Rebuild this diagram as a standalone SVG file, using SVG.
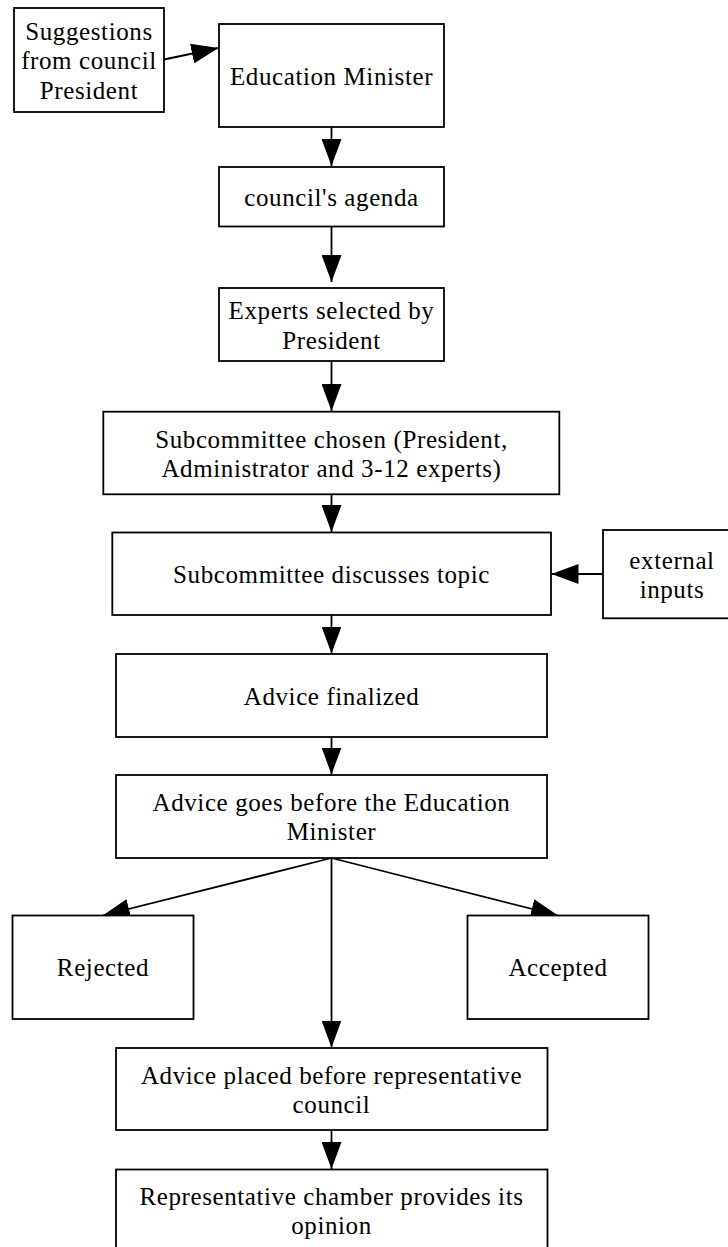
<svg xmlns="http://www.w3.org/2000/svg" width="728" height="1247" viewBox="0 0 728 1247">
<style>
  .box { fill: #ffffff; stroke: #000000; stroke-width: 1.8; }
  .lbl { font-family: "Liberation Serif", "Times New Roman", serif; font-size: 25px; letter-spacing: 0.6px; fill: #000000; text-anchor: middle; }
  .edge { stroke: #000000; stroke-width: 1.8; fill: none; marker-end: url(#arrow); }
</style>
<defs>
  <marker id="arrow" markerUnits="userSpaceOnUse" markerWidth="28" markerHeight="20" refX="27" refY="10" orient="auto">
    <path d="M0,0 L27,10 L0,20 Z" fill="#000000"/>
  </marker>
</defs>
<rect width="728" height="1247" fill="#ffffff"/>

<g id="connectors">
  <line class="edge" x1="164" y1="59.5" x2="218.5" y2="48"/>
  <line class="edge" x1="331.5" y1="127" x2="331.5" y2="166"/>
  <line class="edge" x1="331.5" y1="226.5" x2="331.5" y2="282"/>
  <line class="edge" x1="331.5" y1="361" x2="331.5" y2="411"/>
  <line class="edge" x1="331.5" y1="494.3" x2="331.5" y2="532"/>
  <line class="edge" x1="603" y1="574" x2="551.5" y2="574"/>
  <line class="edge" x1="331.5" y1="615" x2="331.5" y2="653.5"/>
  <line class="edge" x1="331.5" y1="737" x2="331.5" y2="774.5"/>
  <line class="edge" x1="331.5" y1="858" x2="102.7" y2="915.5"/>
  <line class="edge" x1="331.5" y1="858" x2="558" y2="915.5"/>
  <line class="edge" x1="331.5" y1="858" x2="331.5" y2="1047.5"/>
  <line class="edge" x1="331.5" y1="1130" x2="331.5" y2="1169"/>
</g>

<g id="node-suggestions">
  <rect class="box" x="14" y="8" width="150" height="104"/>
  <text class="lbl" x="89" y="39.5">Suggestions</text>
  <text class="lbl" x="89" y="69">from council</text>
  <text class="lbl" x="89" y="98.5">President</text>
</g>

<g id="node-education-minister">
  <rect class="box" x="219" y="24" width="225" height="103"/>
  <text class="lbl" x="331.5" y="84.5">Education Minister</text>
</g>

<g id="node-agenda">
  <rect class="box" x="219" y="167" width="225" height="59.5"/>
  <text class="lbl" x="331.5" y="205.5">council's agenda</text>
</g>

<g id="node-experts">
  <rect class="box" x="219" y="288" width="225" height="73"/>
  <text class="lbl" x="331.5" y="319">Experts selected by</text>
  <text class="lbl" x="331.5" y="348.5">President</text>
</g>

<g id="node-subcommittee-chosen">
  <rect class="box" x="103.3" y="411.7" width="456" height="82.6"/>
  <text class="lbl" x="331.5" y="447.5">Subcommittee chosen (President,</text>
  <text class="lbl" x="331.5" y="476.5">Administrator and 3-12 experts)</text>
</g>

<g id="node-subcommittee-discusses">
  <rect class="box" x="112.3" y="532.5" width="438.7" height="82.5"/>
  <text class="lbl" x="331.5" y="582.7">Subcommittee discusses topic</text>
</g>

<g id="node-external-inputs">
  <rect class="box" x="603" y="530" width="138" height="88.3"/>
  <text class="lbl" x="672" y="568.5">external</text>
  <text class="lbl" x="672" y="597.5">inputs</text>
</g>

<g id="node-advice-finalized">
  <rect class="box" x="116" y="654" width="431" height="83"/>
  <text class="lbl" x="331.5" y="704.5">Advice finalized</text>
</g>

<g id="node-advice-goes">
  <rect class="box" x="116" y="775" width="431" height="83"/>
  <text class="lbl" x="331.5" y="811">Advice goes before the Education</text>
  <text class="lbl" x="331.5" y="840">Minister</text>
</g>

<g id="node-rejected">
  <rect class="box" x="12.5" y="915.5" width="181" height="103.5"/>
  <text class="lbl" x="103" y="976">Rejected</text>
</g>

<g id="node-accepted">
  <rect class="box" x="467.5" y="915.5" width="181" height="103.5"/>
  <text class="lbl" x="558" y="976">Accepted</text>
</g>

<g id="node-advice-placed">
  <rect class="box" x="116" y="1048" width="431.5" height="82"/>
  <text class="lbl" x="331.5" y="1083.5">Advice placed before representative</text>
  <text class="lbl" x="331.5" y="1112.5">council</text>
</g>

<g id="node-representative-chamber">
  <rect class="box" x="116" y="1169.5" width="431.5" height="82"/>
  <text class="lbl" x="331.5" y="1204.5">Representative chamber provides its</text>
  <text class="lbl" x="331.5" y="1233.5">opinion</text>
</g>
</svg>
